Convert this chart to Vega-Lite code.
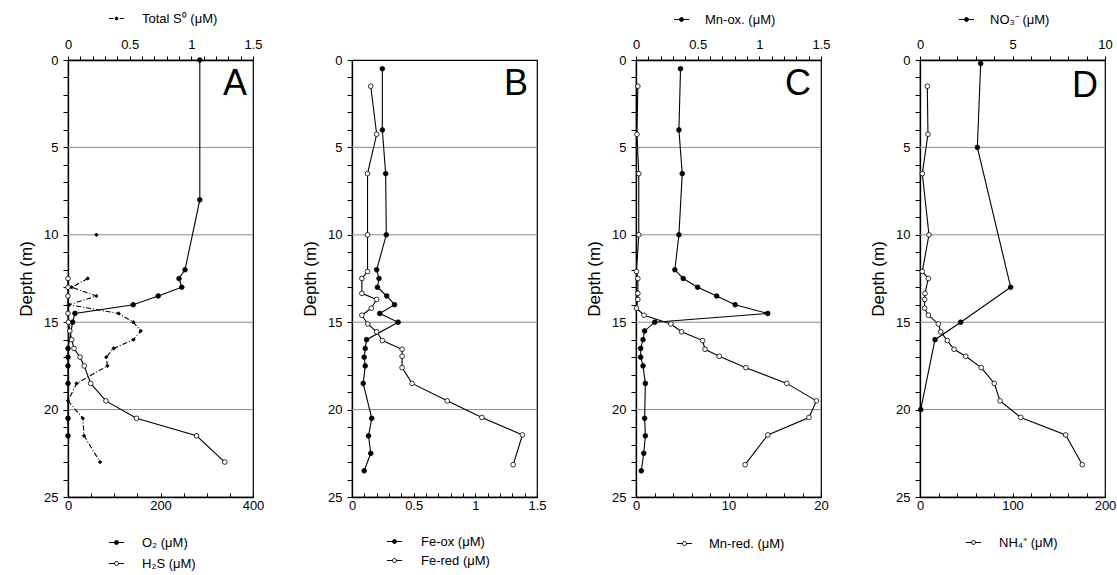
{
"$schema": "https://vega.github.io/schema/vega-lite/v6.json",
"padding": {"left": 16, "top": 11, "right": 5, "bottom": 2},
"background": "white",
"spacing": 99,
"bounds": "flush",
"data": {"values": [
{"series":"O₂ (μM)","depth":0,"value":285},{"series":"O₂ (μM)","depth":8,"value":285},{"series":"O₂ (μM)","depth":12,"value":253},{"series":"O₂ (μM)","depth":12.5,"value":240},{"series":"O₂ (μM)","depth":13,"value":246},{"series":"O₂ (μM)","depth":13.5,"value":195},{"series":"O₂ (μM)","depth":14,"value":141},{"series":"O₂ (μM)","depth":14.5,"value":15},{"series":"O₂ (μM)","depth":15,"value":10},{"series":"O₂ (μM)","depth":16.5,"value":0},{"series":"O₂ (μM)","depth":17,"value":0},{"series":"O₂ (μM)","depth":17.5,"value":0},{"series":"O₂ (μM)","depth":18.5,"value":0},{"series":"O₂ (μM)","depth":20.5,"value":0},{"series":"O₂ (μM)","depth":21.5,"value":0},
{"series":"H₂S (μM)","depth":12.5,"value":0},{"series":"H₂S (μM)","depth":13,"value":0},{"series":"H₂S (μM)","depth":13.5,"value":0},{"series":"H₂S (μM)","depth":14.5,"value":0},{"series":"H₂S (μM)","depth":15,"value":1},{"series":"H₂S (μM)","depth":15.5,"value":4},{"series":"H₂S (μM)","depth":16,"value":8},{"series":"H₂S (μM)","depth":16.5,"value":13},{"series":"H₂S (μM)","depth":17,"value":26},{"series":"H₂S (μM)","depth":17.5,"value":35},{"series":"H₂S (μM)","depth":18.5,"value":49},{"series":"H₂S (μM)","depth":19.5,"value":82},{"series":"H₂S (μM)","depth":20.5,"value":148},{"series":"H₂S (μM)","depth":21.5,"value":278},{"series":"H₂S (μM)","depth":23,"value":339},
{"series":"Total S⁰ (μM)","depth":10,"value":0.23},{"series":"Total S⁰ (μM)","depth":12.5,"value":0.16},{"series":"Total S⁰ (μM)","depth":13,"value":0.03},{"series":"Total S⁰ (μM)","depth":13.5,"value":0.23},{"series":"Total S⁰ (μM)","depth":14,"value":0.01},{"series":"Total S⁰ (μM)","depth":14.5,"value":0.41},{"series":"Total S⁰ (μM)","depth":15,"value":0.53},{"series":"Total S⁰ (μM)","depth":15.5,"value":0.59},{"series":"Total S⁰ (μM)","depth":16,"value":0.53},{"series":"Total S⁰ (μM)","depth":16.5,"value":0.37},{"series":"Total S⁰ (μM)","depth":17,"value":0.31},{"series":"Total S⁰ (μM)","depth":17.5,"value":0.32},{"series":"Total S⁰ (μM)","depth":18.5,"value":0.07},{"series":"Total S⁰ (μM)","depth":19.5,"value":0},{"series":"Total S⁰ (μM)","depth":20.5,"value":0.12},{"series":"Total S⁰ (μM)","depth":21.5,"value":0.13},{"series":"Total S⁰ (μM)","depth":23,"value":0.26},
{"series":"Fe-ox (μM)","depth":0.5,"value":0.246},{"series":"Fe-ox (μM)","depth":4,"value":0.246},{"series":"Fe-ox (μM)","depth":6.5,"value":0.273},{"series":"Fe-ox (μM)","depth":10,"value":0.278},{"series":"Fe-ox (μM)","depth":12,"value":0.2},{"series":"Fe-ox (μM)","depth":12.5,"value":0.219},{"series":"Fe-ox (μM)","depth":13,"value":0.206},{"series":"Fe-ox (μM)","depth":13.5,"value":0.282},{"series":"Fe-ox (μM)","depth":14,"value":0.345},{"series":"Fe-ox (μM)","depth":14.5,"value":0.225},{"series":"Fe-ox (μM)","depth":15,"value":0.374},{"series":"Fe-ox (μM)","depth":16,"value":0.118},{"series":"Fe-ox (μM)","depth":16.5,"value":0.107},{"series":"Fe-ox (μM)","depth":17,"value":0.099},{"series":"Fe-ox (μM)","depth":17.5,"value":0.107},{"series":"Fe-ox (μM)","depth":18.5,"value":0.091},{"series":"Fe-ox (μM)","depth":20.5,"value":0.16},{"series":"Fe-ox (μM)","depth":21.5,"value":0.134},{"series":"Fe-ox (μM)","depth":22.5,"value":0.152},{"series":"Fe-ox (μM)","depth":23.5,"value":0.099},
{"series":"Fe-red (μM)","depth":1.5,"value":0.152},{"series":"Fe-red (μM)","depth":4.25,"value":0.2},{"series":"Fe-red (μM)","depth":6.5,"value":0.126},{"series":"Fe-red (μM)","depth":10,"value":0.126},{"series":"Fe-red (μM)","depth":12.1,"value":0.126},{"series":"Fe-red (μM)","depth":12.5,"value":0.08},{"series":"Fe-red (μM)","depth":13.35,"value":0.08},{"series":"Fe-red (μM)","depth":13.7,"value":0.2},{"series":"Fe-red (μM)","depth":14.2,"value":0.156},{"series":"Fe-red (μM)","depth":14.6,"value":0.08},{"series":"Fe-red (μM)","depth":15.1,"value":0.128},{"series":"Fe-red (μM)","depth":15.55,"value":0.2},{"series":"Fe-red (μM)","depth":16.05,"value":0.246},{"series":"Fe-red (μM)","depth":16.55,"value":0.406},{"series":"Fe-red (μM)","depth":16.95,"value":0.406},{"series":"Fe-red (μM)","depth":17.6,"value":0.406},{"series":"Fe-red (μM)","depth":18.5,"value":0.487},{"series":"Fe-red (μM)","depth":19.5,"value":0.772},{"series":"Fe-red (μM)","depth":20.45,"value":1.053},{"series":"Fe-red (μM)","depth":21.45,"value":1.382},{"series":"Fe-red (μM)","depth":23.15,"value":1.307},
{"series":"Mn-ox. (μM)","depth":0.5,"value":0.361},{"series":"Mn-ox. (μM)","depth":4,"value":0.348},{"series":"Mn-ox. (μM)","depth":6.5,"value":0.375},{"series":"Mn-ox. (μM)","depth":10,"value":0.348},{"series":"Mn-ox. (μM)","depth":12,"value":0.315},{"series":"Mn-ox. (μM)","depth":12.5,"value":0.383},{"series":"Mn-ox. (μM)","depth":13,"value":0.5},{"series":"Mn-ox. (μM)","depth":13.5,"value":0.654},{"series":"Mn-ox. (μM)","depth":14,"value":0.804},{"series":"Mn-ox. (μM)","depth":14.5,"value":1.068},{"series":"Mn-ox. (μM)","depth":15,"value":0.152},{"series":"Mn-ox. (μM)","depth":15.5,"value":0.07},{"series":"Mn-ox. (μM)","depth":16,"value":0.057},{"series":"Mn-ox. (μM)","depth":16.5,"value":0.038},{"series":"Mn-ox. (μM)","depth":17,"value":0.038},{"series":"Mn-ox. (μM)","depth":17.5,"value":0.057},{"series":"Mn-ox. (μM)","depth":18.5,"value":0.076},{"series":"Mn-ox. (μM)","depth":20.5,"value":0.07},{"series":"Mn-ox. (μM)","depth":21.5,"value":0.076},{"series":"Mn-ox. (μM)","depth":22.5,"value":0.063},{"series":"Mn-ox. (μM)","depth":23.5,"value":0.043},
{"series":"Mn-red. (μM)","depth":1.5,"value":0.2},{"series":"Mn-red. (μM)","depth":4.25,"value":0.1},{"series":"Mn-red. (μM)","depth":6.5,"value":0.3},{"series":"Mn-red. (μM)","depth":10,"value":0.3},{"series":"Mn-red. (μM)","depth":12.1,"value":0.05},{"series":"Mn-red. (μM)","depth":12.5,"value":0.2},{"series":"Mn-red. (μM)","depth":13.35,"value":0.2},{"series":"Mn-red. (μM)","depth":13.7,"value":0.2},{"series":"Mn-red. (μM)","depth":14.2,"value":0.05},{"series":"Mn-red. (μM)","depth":14.6,"value":0.87},{"series":"Mn-red. (μM)","depth":15.1,"value":3.77},{"series":"Mn-red. (μM)","depth":15.55,"value":4.93},{"series":"Mn-red. (μM)","depth":16.05,"value":7.2},{"series":"Mn-red. (μM)","depth":16.55,"value":7.46},{"series":"Mn-red. (μM)","depth":16.95,"value":9.0},{"series":"Mn-red. (μM)","depth":17.6,"value":11.88},{"series":"Mn-red. (μM)","depth":18.5,"value":16.3},{"series":"Mn-red. (μM)","depth":19.5,"value":19.5},{"series":"Mn-red. (μM)","depth":20.45,"value":18.7},{"series":"Mn-red. (μM)","depth":21.45,"value":14.25},{"series":"Mn-red. (μM)","depth":23.15,"value":11.8},
{"series":"NO₃⁻ (μM)","depth":0.2,"value":3.28},{"series":"NO₃⁻ (μM)","depth":5,"value":3.1},{"series":"NO₃⁻ (μM)","depth":13,"value":4.9},{"series":"NO₃⁻ (μM)","depth":15,"value":2.2},{"series":"NO₃⁻ (μM)","depth":16,"value":0.81},{"series":"NO₃⁻ (μM)","depth":20,"value":0.04},
{"series":"NH₄⁺ (μM)","depth":1.5,"value":7.9},{"series":"NH₄⁺ (μM)","depth":4.25,"value":8.6},{"series":"NH₄⁺ (μM)","depth":6.5,"value":2.5},{"series":"NH₄⁺ (μM)","depth":10,"value":9.7},{"series":"NH₄⁺ (μM)","depth":12.1,"value":2.5},{"series":"NH₄⁺ (μM)","depth":12.5,"value":9},{"series":"NH₄⁺ (μM)","depth":13.35,"value":5.4},{"series":"NH₄⁺ (μM)","depth":13.7,"value":5},{"series":"NH₄⁺ (μM)","depth":14.2,"value":5},{"series":"NH₄⁺ (μM)","depth":14.6,"value":9},{"series":"NH₄⁺ (μM)","depth":15.1,"value":19.8},{"series":"NH₄⁺ (μM)","depth":15.55,"value":22.4},{"series":"NH₄⁺ (μM)","depth":16.05,"value":29.5},{"series":"NH₄⁺ (μM)","depth":16.55,"value":36.8},{"series":"NH₄⁺ (μM)","depth":16.95,"value":49.4},{"series":"NH₄⁺ (μM)","depth":17.6,"value":66.2},{"series":"NH₄⁺ (μM)","depth":18.5,"value":80.3},{"series":"NH₄⁺ (μM)","depth":19.5,"value":86.5},{"series":"NH₄⁺ (μM)","depth":20.45,"value":108.9},{"series":"NH₄⁺ (μM)","depth":21.45,"value":157.5},{"series":"NH₄⁺ (μM)","depth":23.15,"value":175.5}
]},
"resolve": {"scale": {"fill": "independent", "stroke": "independent"}, "legend": {"fill": "independent", "stroke": "independent"}},
"hconcat": [
{
 "width": 185, "height": 437,
 "resolve": {"scale": {"x": "independent"}},
 "layer": [
  {"data": {"values": [{"depth": 5}, {"depth": 10}, {"depth": 15}, {"depth": 20}]}, "mark": {"type": "rule", "color": "#8a8a8a", "strokeWidth": 1}, "encoding": {"y": {"field": "depth", "type": "quantitative", "scale": {"domain": [0, 25], "reverse": true, "nice": false, "zero": false}, "axis": {"title": "Depth (m)", "values": [0,1,2,3,4,5,6,7,8,9,10,11,12,13,14,15,16,17,18,19,20,21,22,23,24,25], "labelExpr": "datum.value % 5 === 0 ? datum.label : ''", "format": "~f", "tickSize": 5, "labelPadding": 5, "titleFontSize": 17, "titlePadding": 8}}}},
  {"transform": [{"filter": {"field": "series", "equal": "O₂ (μM)"}}], "mark": {"type": "line", "color": "black", "strokeWidth": 1.1}, "encoding": {"y": {"field": "depth", "type": "quantitative", "scale": {"domain": [0, 25], "reverse": true, "nice": false, "zero": false}, "axis": {"title": "Depth (m)", "values": [0,1,2,3,4,5,6,7,8,9,10,11,12,13,14,15,16,17,18,19,20,21,22,23,24,25], "labelExpr": "datum.value % 5 === 0 ? datum.label : ''", "format": "~f", "tickSize": 5, "labelPadding": 5, "titleFontSize": 17, "titlePadding": 8}}, "x": {"field": "value", "type": "quantitative", "scale": {"domain": [0, 400], "nice": false, "zero": false}, "axis": {"orient": "bottom", "title": null, "format": "~f", "values": [0,50,100,150,200,250,300,350,400], "labelExpr": "datum.value % 200 === 0 ? datum.label : ''", "tickSize": -4, "labelPadding": 6}}, "order": {"field": "depth", "type": "quantitative"}}},
  {"transform": [{"filter": {"field": "series", "equal": "H₂S (μM)"}}], "mark": {"type": "line", "color": "black", "strokeWidth": 1.1}, "encoding": {"y": {"field": "depth", "type": "quantitative", "scale": {"domain": [0, 25], "reverse": true, "nice": false, "zero": false}, "axis": {"title": "Depth (m)", "values": [0,1,2,3,4,5,6,7,8,9,10,11,12,13,14,15,16,17,18,19,20,21,22,23,24,25], "labelExpr": "datum.value % 5 === 0 ? datum.label : ''", "format": "~f", "tickSize": 5, "labelPadding": 5, "titleFontSize": 17, "titlePadding": 8}}, "x": {"field": "value", "type": "quantitative", "scale": {"domain": [0, 400], "nice": false, "zero": false}, "axis": null}, "order": {"field": "depth", "type": "quantitative"}}},
  {"transform": [{"filter": {"and": [{"field": "series", "equal": "Total S⁰ (μM)"}, {"field": "depth", "gt": 11}]}}], "mark": {"type": "line", "color": "black", "strokeWidth": 1.1, "strokeDash": [5, 2, 1, 2]}, "encoding": {"y": {"field": "depth", "type": "quantitative", "scale": {"domain": [0, 25], "reverse": true, "nice": false, "zero": false}, "axis": {"title": "Depth (m)", "values": [0,1,2,3,4,5,6,7,8,9,10,11,12,13,14,15,16,17,18,19,20,21,22,23,24,25], "labelExpr": "datum.value % 5 === 0 ? datum.label : ''", "format": "~f", "tickSize": 5, "labelPadding": 5, "titleFontSize": 17, "titlePadding": 8}}, "x": {"field": "value", "type": "quantitative", "scale": {"domain": [0, 1.5], "nice": false, "zero": false}, "axis": {"orient": "top", "title": null, "format": "~f", "values": [0,0.1,0.2,0.3,0.4,0.5,0.6,0.7,0.8,0.9,1,1.1,1.2,1.3,1.4,1.5], "labelExpr": "datum.value == 0 || datum.value == 0.5 || datum.value == 1 || datum.value == 1.5 ? datum.label : ''", "tickSize": 4, "labelPadding": 5}}, "order": {"field": "depth", "type": "quantitative"}}},
  {"transform": [{"filter": {"field": "series", "oneOf": ["O₂ (μM)", "H₂S (μM)"]}}], "mark": {"type": "point", "shape": "circle", "filled": true, "size": 22, "stroke": "black", "strokeWidth": 0.8, "opacity": 1}, "encoding": {"y": {"field": "depth", "type": "quantitative", "scale": {"domain": [0, 25], "reverse": true, "nice": false, "zero": false}, "axis": {"title": "Depth (m)", "values": [0,1,2,3,4,5,6,7,8,9,10,11,12,13,14,15,16,17,18,19,20,21,22,23,24,25], "labelExpr": "datum.value % 5 === 0 ? datum.label : ''", "format": "~f", "tickSize": 5, "labelPadding": 5, "titleFontSize": 17, "titlePadding": 8}}, "x": {"field": "value", "type": "quantitative", "scale": {"domain": [0, 400], "nice": false, "zero": false}, "axis": null}, "fill": {"field": "series", "type": "nominal", "scale": {"domain": ["O₂ (μM)", "H₂S (μM)"], "range": ["black", "white"]}, "legend": {"orient": "none", "legendX": 42, "legendY": 476, "direction": "vertical", "title": null, "symbolType": "M-1.9,0L-0.5,0M0.5,0L1.9,0M-0.5,0A0.5,0.5,0,1,0,0.5,0A0.5,0.5,0,1,0,-0.5,0Z", "symbolSize": 64, "symbolStrokeColor": "black", "symbolStrokeWidth": 1, "symbolOpacity": 1, "labelFontSize": 13, "labelOffset": 19, "rowPadding": 7, "padding": 0}}}},
  {"transform": [{"filter": {"field": "series", "equal": "Total S⁰ (μM)"}}], "mark": {"type": "point", "shape": "diamond", "filled": true, "fill": "black", "size": 12, "strokeWidth": 0.8, "opacity": 1}, "encoding": {"y": {"field": "depth", "type": "quantitative", "scale": {"domain": [0, 25], "reverse": true, "nice": false, "zero": false}, "axis": {"title": "Depth (m)", "values": [0,1,2,3,4,5,6,7,8,9,10,11,12,13,14,15,16,17,18,19,20,21,22,23,24,25], "labelExpr": "datum.value % 5 === 0 ? datum.label : ''", "format": "~f", "tickSize": 5, "labelPadding": 5, "titleFontSize": 17, "titlePadding": 8}}, "x": {"field": "value", "type": "quantitative", "scale": {"domain": [0, 1.5], "nice": false, "zero": false}, "axis": null}, "stroke": {"field": "series", "type": "nominal", "scale": {"domain": ["Total S⁰ (μM)"], "range": ["black"]}, "legend": {"orient": "none", "legendX": 42, "legendY": -48, "direction": "vertical", "title": null, "symbolType": "M-1.9,0L-0.8,0M0.8,0L1.9,0M-0.35,0A0.35,0.35,0,1,0,0.35,0A0.35,0.35,0,1,0,-0.35,0Z", "symbolSize": 64, "symbolFillColor": "black", "symbolStrokeWidth": 1, "symbolOpacity": 1, "labelFontSize": 13, "labelOffset": 19, "padding": 0}}}},
  {"data": {"values": [{"letter": "A"}]}, "mark": {"type": "text", "align": "right", "baseline": "alphabetic", "dx": -6, "dy": 35, "fontSize": 36, "font": "Liberation Sans", "color": "black"}, "encoding": {"x": {"datum": 400, "type": "quantitative", "scale": {"domain": [0, 400], "nice": false, "zero": false}, "axis": null}, "y": {"datum": 0, "type": "quantitative", "scale": {"domain": [0, 25], "reverse": true, "nice": false, "zero": false}, "axis": {"title": "Depth (m)", "values": [0,1,2,3,4,5,6,7,8,9,10,11,12,13,14,15,16,17,18,19,20,21,22,23,24,25], "labelExpr": "datum.value % 5 === 0 ? datum.label : ''", "format": "~f", "tickSize": 5, "labelPadding": 5, "titleFontSize": 17, "titlePadding": 8}}, "text": {"field": "letter"}}}
 ]
},
{
 "width": 185, "height": 437,
 "resolve": {"scale": {"x": "independent"}},
 "layer": [
  {"data": {"values": [{"depth": 5}, {"depth": 10}, {"depth": 15}, {"depth": 20}]}, "mark": {"type": "rule", "color": "#8a8a8a", "strokeWidth": 1}, "encoding": {"y": {"field": "depth", "type": "quantitative", "scale": {"domain": [0, 25], "reverse": true, "nice": false, "zero": false}, "axis": {"title": "Depth (m)", "values": [0,1,2,3,4,5,6,7,8,9,10,11,12,13,14,15,16,17,18,19,20,21,22,23,24,25], "labelExpr": "datum.value % 5 === 0 ? datum.label : ''", "format": "~f", "tickSize": 5, "labelPadding": 5, "titleFontSize": 17, "titlePadding": 8}}}},
  {"transform": [{"filter": {"field": "series", "equal": "Fe-ox (μM)"}}], "mark": {"type": "line", "color": "black", "strokeWidth": 1.1}, "encoding": {"y": {"field": "depth", "type": "quantitative", "scale": {"domain": [0, 25], "reverse": true, "nice": false, "zero": false}, "axis": {"title": "Depth (m)", "values": [0,1,2,3,4,5,6,7,8,9,10,11,12,13,14,15,16,17,18,19,20,21,22,23,24,25], "labelExpr": "datum.value % 5 === 0 ? datum.label : ''", "format": "~f", "tickSize": 5, "labelPadding": 5, "titleFontSize": 17, "titlePadding": 8}}, "x": {"field": "value", "type": "quantitative", "scale": {"domain": [0, 1.5], "nice": false, "zero": false}, "axis": {"orient": "bottom", "title": null, "format": "~f", "values": [0,0.1,0.2,0.3,0.4,0.5,0.6,0.7,0.8,0.9,1,1.1,1.2,1.3,1.4,1.5], "labelExpr": "datum.value == 0 || datum.value == 0.5 || datum.value == 1 || datum.value == 1.5 ? datum.label : ''", "tickSize": -4, "labelPadding": 6}}, "order": {"field": "depth", "type": "quantitative"}}},
  {"transform": [{"filter": {"field": "series", "equal": "Fe-red (μM)"}}], "mark": {"type": "line", "color": "black", "strokeWidth": 1.1}, "encoding": {"y": {"field": "depth", "type": "quantitative", "scale": {"domain": [0, 25], "reverse": true, "nice": false, "zero": false}, "axis": {"title": "Depth (m)", "values": [0,1,2,3,4,5,6,7,8,9,10,11,12,13,14,15,16,17,18,19,20,21,22,23,24,25], "labelExpr": "datum.value % 5 === 0 ? datum.label : ''", "format": "~f", "tickSize": 5, "labelPadding": 5, "titleFontSize": 17, "titlePadding": 8}}, "x": {"field": "value", "type": "quantitative", "scale": {"domain": [0, 1.5], "nice": false, "zero": false}, "axis": null}, "order": {"field": "depth", "type": "quantitative"}}},
  {"transform": [{"filter": {"field": "series", "oneOf": ["Fe-ox (μM)", "Fe-red (μM)"]}}], "mark": {"type": "point", "shape": "circle", "filled": true, "size": 22, "stroke": "black", "strokeWidth": 0.8, "opacity": 1}, "encoding": {"y": {"field": "depth", "type": "quantitative", "scale": {"domain": [0, 25], "reverse": true, "nice": false, "zero": false}, "axis": {"title": "Depth (m)", "values": [0,1,2,3,4,5,6,7,8,9,10,11,12,13,14,15,16,17,18,19,20,21,22,23,24,25], "labelExpr": "datum.value % 5 === 0 ? datum.label : ''", "format": "~f", "tickSize": 5, "labelPadding": 5, "titleFontSize": 17, "titlePadding": 8}}, "x": {"field": "value", "type": "quantitative", "scale": {"domain": [0, 1.5], "nice": false, "zero": false}, "axis": null}, "fill": {"field": "series", "type": "nominal", "scale": {"domain": ["Fe-ox (μM)", "Fe-red (μM)"], "range": ["black", "white"]}, "legend": {"orient": "none", "legendX": 36, "legendY": 475, "direction": "vertical", "title": null, "symbolType": "M-1.9,0L-0.5,0M0.5,0L1.9,0M-0.5,0A0.5,0.5,0,1,0,0.5,0A0.5,0.5,0,1,0,-0.5,0Z", "symbolSize": 64, "symbolStrokeColor": "black", "symbolStrokeWidth": 1, "symbolOpacity": 1, "labelFontSize": 13, "labelOffset": 20, "rowPadding": 5, "padding": 0}}}},
  {"data": {"values": [{"letter": "B"}]}, "mark": {"type": "text", "align": "right", "baseline": "alphabetic", "dx": -9, "dy": 35, "fontSize": 36, "font": "Liberation Sans", "color": "black"}, "encoding": {"x": {"datum": 1.5, "type": "quantitative", "scale": {"domain": [0, 1.5], "nice": false, "zero": false}, "axis": null}, "y": {"datum": 0, "type": "quantitative", "scale": {"domain": [0, 25], "reverse": true, "nice": false, "zero": false}, "axis": {"title": "Depth (m)", "values": [0,1,2,3,4,5,6,7,8,9,10,11,12,13,14,15,16,17,18,19,20,21,22,23,24,25], "labelExpr": "datum.value % 5 === 0 ? datum.label : ''", "format": "~f", "tickSize": 5, "labelPadding": 5, "titleFontSize": 17, "titlePadding": 8}}, "text": {"field": "letter"}}}
 ]
},
{
 "width": 185, "height": 437,
 "resolve": {"scale": {"x": "independent"}},
 "layer": [
  {"data": {"values": [{"depth": 5}, {"depth": 10}, {"depth": 15}, {"depth": 20}]}, "mark": {"type": "rule", "color": "#8a8a8a", "strokeWidth": 1}, "encoding": {"y": {"field": "depth", "type": "quantitative", "scale": {"domain": [0, 25], "reverse": true, "nice": false, "zero": false}, "axis": {"title": "Depth (m)", "values": [0,1,2,3,4,5,6,7,8,9,10,11,12,13,14,15,16,17,18,19,20,21,22,23,24,25], "labelExpr": "datum.value % 5 === 0 ? datum.label : ''", "format": "~f", "tickSize": 5, "labelPadding": 5, "titleFontSize": 17, "titlePadding": 8}}}},
  {"transform": [{"filter": {"field": "series", "equal": "Mn-red. (μM)"}}], "mark": {"type": "line", "color": "black", "strokeWidth": 1.1}, "encoding": {"y": {"field": "depth", "type": "quantitative", "scale": {"domain": [0, 25], "reverse": true, "nice": false, "zero": false}, "axis": {"title": "Depth (m)", "values": [0,1,2,3,4,5,6,7,8,9,10,11,12,13,14,15,16,17,18,19,20,21,22,23,24,25], "labelExpr": "datum.value % 5 === 0 ? datum.label : ''", "format": "~f", "tickSize": 5, "labelPadding": 5, "titleFontSize": 17, "titlePadding": 8}}, "x": {"field": "value", "type": "quantitative", "scale": {"domain": [0, 20], "nice": false, "zero": false}, "axis": {"orient": "bottom", "title": null, "format": "~f", "values": [0,2,4,6,8,10,12,14,16,18,20], "labelExpr": "datum.value % 10 === 0 ? datum.label : ''", "tickSize": -4, "labelPadding": 6}}, "order": {"field": "depth", "type": "quantitative"}}},
  {"transform": [{"filter": {"field": "series", "equal": "Mn-ox. (μM)"}}], "mark": {"type": "line", "color": "black", "strokeWidth": 1.1}, "encoding": {"y": {"field": "depth", "type": "quantitative", "scale": {"domain": [0, 25], "reverse": true, "nice": false, "zero": false}, "axis": {"title": "Depth (m)", "values": [0,1,2,3,4,5,6,7,8,9,10,11,12,13,14,15,16,17,18,19,20,21,22,23,24,25], "labelExpr": "datum.value % 5 === 0 ? datum.label : ''", "format": "~f", "tickSize": 5, "labelPadding": 5, "titleFontSize": 17, "titlePadding": 8}}, "x": {"field": "value", "type": "quantitative", "scale": {"domain": [0, 1.5], "nice": false, "zero": false}, "axis": {"orient": "top", "title": null, "format": "~f", "values": [0,0.1,0.2,0.3,0.4,0.5,0.6,0.7,0.8,0.9,1,1.1,1.2,1.3,1.4,1.5], "labelExpr": "datum.value == 0 || datum.value == 0.5 || datum.value == 1 || datum.value == 1.5 ? datum.label : ''", "tickSize": 4, "labelPadding": 5}}, "order": {"field": "depth", "type": "quantitative"}}},
  {"transform": [{"filter": {"field": "series", "equal": "Mn-red. (μM)"}}], "mark": {"type": "point", "shape": "circle", "filled": true, "size": 22, "stroke": "black", "strokeWidth": 0.8, "opacity": 1}, "encoding": {"y": {"field": "depth", "type": "quantitative", "scale": {"domain": [0, 25], "reverse": true, "nice": false, "zero": false}, "axis": {"title": "Depth (m)", "values": [0,1,2,3,4,5,6,7,8,9,10,11,12,13,14,15,16,17,18,19,20,21,22,23,24,25], "labelExpr": "datum.value % 5 === 0 ? datum.label : ''", "format": "~f", "tickSize": 5, "labelPadding": 5, "titleFontSize": 17, "titlePadding": 8}}, "x": {"field": "value", "type": "quantitative", "scale": {"domain": [0, 20], "nice": false, "zero": false}, "axis": null}, "fill": {"field": "series", "type": "nominal", "scale": {"domain": ["Mn-red. (μM)"], "range": ["white"]}, "legend": {"orient": "none", "legendX": 42, "legendY": 477, "direction": "vertical", "title": null, "symbolType": "M-1.9,0L-0.5,0M0.5,0L1.9,0M-0.5,0A0.5,0.5,0,1,0,0.5,0A0.5,0.5,0,1,0,-0.5,0Z", "symbolSize": 64, "symbolStrokeColor": "black", "symbolStrokeWidth": 1, "symbolOpacity": 1, "labelFontSize": 13, "labelOffset": 18, "padding": 0}}}},
  {"transform": [{"filter": {"field": "series", "equal": "Mn-ox. (μM)"}}], "mark": {"type": "point", "shape": "circle", "filled": true, "fill": "black", "size": 22, "strokeWidth": 0.8, "opacity": 1}, "encoding": {"y": {"field": "depth", "type": "quantitative", "scale": {"domain": [0, 25], "reverse": true, "nice": false, "zero": false}, "axis": {"title": "Depth (m)", "values": [0,1,2,3,4,5,6,7,8,9,10,11,12,13,14,15,16,17,18,19,20,21,22,23,24,25], "labelExpr": "datum.value % 5 === 0 ? datum.label : ''", "format": "~f", "tickSize": 5, "labelPadding": 5, "titleFontSize": 17, "titlePadding": 8}}, "x": {"field": "value", "type": "quantitative", "scale": {"domain": [0, 1.5], "nice": false, "zero": false}, "axis": null}, "stroke": {"field": "series", "type": "nominal", "scale": {"domain": ["Mn-ox. (μM)"], "range": ["black"]}, "legend": {"orient": "none", "legendX": 39, "legendY": -47, "direction": "vertical", "title": null, "symbolType": "M-1.9,0L-0.5,0M0.5,0L1.9,0M-0.5,0A0.5,0.5,0,1,0,0.5,0A0.5,0.5,0,1,0,-0.5,0Z", "symbolSize": 64, "symbolFillColor": "black", "symbolStrokeWidth": 1, "symbolOpacity": 1, "labelFontSize": 13, "labelOffset": 17, "padding": 0}}}},
  {"data": {"values": [{"letter": "C"}]}, "mark": {"type": "text", "align": "right", "baseline": "alphabetic", "dx": -10, "dy": 35, "fontSize": 36, "font": "Liberation Sans", "color": "black"}, "encoding": {"x": {"datum": 1.5, "type": "quantitative", "scale": {"domain": [0, 1.5], "nice": false, "zero": false}, "axis": null}, "y": {"datum": 0, "type": "quantitative", "scale": {"domain": [0, 25], "reverse": true, "nice": false, "zero": false}, "axis": {"title": "Depth (m)", "values": [0,1,2,3,4,5,6,7,8,9,10,11,12,13,14,15,16,17,18,19,20,21,22,23,24,25], "labelExpr": "datum.value % 5 === 0 ? datum.label : ''", "format": "~f", "tickSize": 5, "labelPadding": 5, "titleFontSize": 17, "titlePadding": 8}}, "text": {"field": "letter"}}}
 ]
},
{
 "width": 185, "height": 437,
 "resolve": {"scale": {"x": "independent"}},
 "layer": [
  {"data": {"values": [{"depth": 5}, {"depth": 10}, {"depth": 15}, {"depth": 20}]}, "mark": {"type": "rule", "color": "#8a8a8a", "strokeWidth": 1}, "encoding": {"y": {"field": "depth", "type": "quantitative", "scale": {"domain": [0, 25], "reverse": true, "nice": false, "zero": false}, "axis": {"title": "Depth (m)", "values": [0,1,2,3,4,5,6,7,8,9,10,11,12,13,14,15,16,17,18,19,20,21,22,23,24,25], "labelExpr": "datum.value % 5 === 0 ? datum.label : ''", "format": "~f", "tickSize": 5, "labelPadding": 5, "titleFontSize": 17, "titlePadding": 8}}}},
  {"transform": [{"filter": {"field": "series", "equal": "NH₄⁺ (μM)"}}], "mark": {"type": "line", "color": "black", "strokeWidth": 1.1}, "encoding": {"y": {"field": "depth", "type": "quantitative", "scale": {"domain": [0, 25], "reverse": true, "nice": false, "zero": false}, "axis": {"title": "Depth (m)", "values": [0,1,2,3,4,5,6,7,8,9,10,11,12,13,14,15,16,17,18,19,20,21,22,23,24,25], "labelExpr": "datum.value % 5 === 0 ? datum.label : ''", "format": "~f", "tickSize": 5, "labelPadding": 5, "titleFontSize": 17, "titlePadding": 8}}, "x": {"field": "value", "type": "quantitative", "scale": {"domain": [0, 200], "nice": false, "zero": false}, "axis": {"orient": "bottom", "title": null, "format": "~f", "values": [0,20,40,60,80,100,120,140,160,180,200], "labelExpr": "datum.value % 100 === 0 ? datum.label : ''", "tickSize": -4, "labelPadding": 6}}, "order": {"field": "depth", "type": "quantitative"}}},
  {"transform": [{"filter": {"field": "series", "equal": "NO₃⁻ (μM)"}}], "mark": {"type": "line", "color": "black", "strokeWidth": 1.1}, "encoding": {"y": {"field": "depth", "type": "quantitative", "scale": {"domain": [0, 25], "reverse": true, "nice": false, "zero": false}, "axis": {"title": "Depth (m)", "values": [0,1,2,3,4,5,6,7,8,9,10,11,12,13,14,15,16,17,18,19,20,21,22,23,24,25], "labelExpr": "datum.value % 5 === 0 ? datum.label : ''", "format": "~f", "tickSize": 5, "labelPadding": 5, "titleFontSize": 17, "titlePadding": 8}}, "x": {"field": "value", "type": "quantitative", "scale": {"domain": [0, 10], "nice": false, "zero": false}, "axis": {"orient": "top", "title": null, "format": "~f", "values": [0,1,2,3,4,5,6,7,8,9,10], "labelExpr": "datum.value % 5 === 0 ? datum.label : ''", "tickSize": 4, "labelPadding": 5}}, "order": {"field": "depth", "type": "quantitative"}}},
  {"transform": [{"filter": {"field": "series", "equal": "NH₄⁺ (μM)"}}], "mark": {"type": "point", "shape": "circle", "filled": true, "size": 22, "stroke": "black", "strokeWidth": 0.8, "opacity": 1}, "encoding": {"y": {"field": "depth", "type": "quantitative", "scale": {"domain": [0, 25], "reverse": true, "nice": false, "zero": false}, "axis": {"title": "Depth (m)", "values": [0,1,2,3,4,5,6,7,8,9,10,11,12,13,14,15,16,17,18,19,20,21,22,23,24,25], "labelExpr": "datum.value % 5 === 0 ? datum.label : ''", "format": "~f", "tickSize": 5, "labelPadding": 5, "titleFontSize": 17, "titlePadding": 8}}, "x": {"field": "value", "type": "quantitative", "scale": {"domain": [0, 200], "nice": false, "zero": false}, "axis": null}, "fill": {"field": "series", "type": "nominal", "scale": {"domain": ["NH₄⁺ (μM)"], "range": ["white"]}, "legend": {"orient": "none", "legendX": 47, "legendY": 476, "direction": "vertical", "title": null, "symbolType": "M-1.9,0L-0.5,0M0.5,0L1.9,0M-0.5,0A0.5,0.5,0,1,0,0.5,0A0.5,0.5,0,1,0,-0.5,0Z", "symbolSize": 64, "symbolStrokeColor": "black", "symbolStrokeWidth": 1, "symbolOpacity": 1, "labelFontSize": 13, "labelOffset": 19, "padding": 0}}}},
  {"transform": [{"filter": {"field": "series", "equal": "NO₃⁻ (μM)"}}], "mark": {"type": "point", "shape": "circle", "filled": true, "fill": "black", "size": 22, "strokeWidth": 0.8, "opacity": 1}, "encoding": {"y": {"field": "depth", "type": "quantitative", "scale": {"domain": [0, 25], "reverse": true, "nice": false, "zero": false}, "axis": {"title": "Depth (m)", "values": [0,1,2,3,4,5,6,7,8,9,10,11,12,13,14,15,16,17,18,19,20,21,22,23,24,25], "labelExpr": "datum.value % 5 === 0 ? datum.label : ''", "format": "~f", "tickSize": 5, "labelPadding": 5, "titleFontSize": 17, "titlePadding": 8}}, "x": {"field": "value", "type": "quantitative", "scale": {"domain": [0, 10], "nice": false, "zero": false}, "axis": null}, "stroke": {"field": "series", "type": "nominal", "scale": {"domain": ["NO₃⁻ (μM)"], "range": ["black"]}, "legend": {"orient": "none", "legendX": 40, "legendY": -47, "direction": "vertical", "title": null, "symbolType": "M-1.9,0L-0.5,0M0.5,0L1.9,0M-0.5,0A0.5,0.5,0,1,0,0.5,0A0.5,0.5,0,1,0,-0.5,0Z", "symbolSize": 64, "symbolFillColor": "black", "symbolStrokeWidth": 1, "symbolOpacity": 1, "labelFontSize": 13, "labelOffset": 17, "padding": 0}}}},
  {"data": {"values": [{"letter": "D"}]}, "mark": {"type": "text", "align": "right", "baseline": "alphabetic", "dx": -7, "dy": 37, "fontSize": 36, "font": "Liberation Sans", "color": "black"}, "encoding": {"x": {"datum": 10, "type": "quantitative", "scale": {"domain": [0, 10], "nice": false, "zero": false}, "axis": null}, "y": {"datum": 0, "type": "quantitative", "scale": {"domain": [0, 25], "reverse": true, "nice": false, "zero": false}, "axis": {"title": "Depth (m)", "values": [0,1,2,3,4,5,6,7,8,9,10,11,12,13,14,15,16,17,18,19,20,21,22,23,24,25], "labelExpr": "datum.value % 5 === 0 ? datum.label : ''", "format": "~f", "tickSize": 5, "labelPadding": 5, "titleFontSize": 17, "titlePadding": 8}}, "text": {"field": "letter"}}}
 ]
}
],
"config": {
 "font": "Liberation Sans",
 "view": {"stroke": "black", "strokeWidth": 1.2},
 "axis": {"labelFont": "Liberation Sans", "labelFontSize": 13, "labelColor": "black", "titleFont": "Liberation Sans", "titleColor": "black", "titleFontWeight": "normal", "domainColor": "black", "domainWidth": 1.3, "tickColor": "black", "tickWidth": 1, "grid": false, "labelFlush": false, "labelOverlap": false, "labelBound": false},
 "legend": {"labelFont": "Liberation Sans", "labelColor": "black", "labelFontSize": 13}
}
}
